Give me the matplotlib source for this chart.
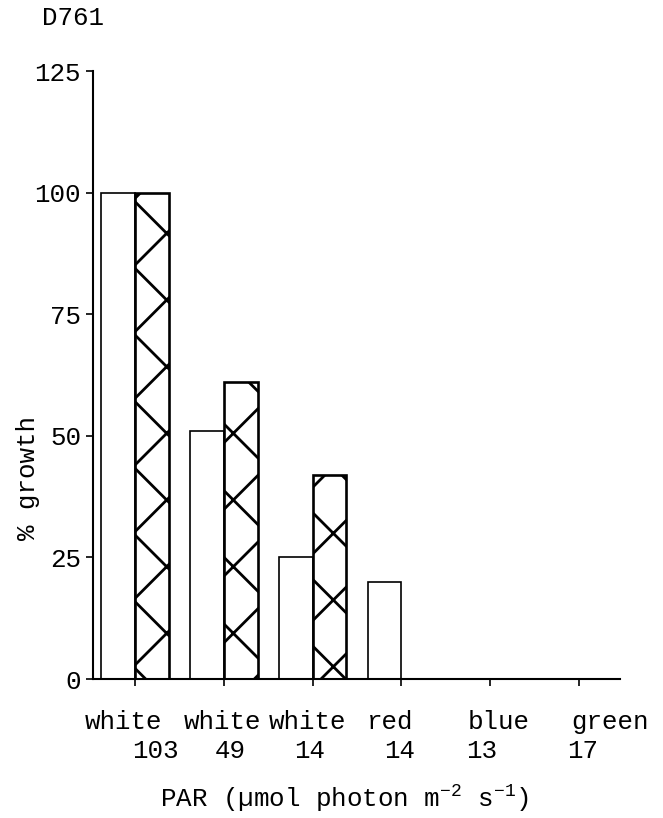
import matplotlib
matplotlib.use("Agg")
import matplotlib.pyplot as plt
import numpy as np

# growth relative to white 103, two series per light condition
light = ["white", "white", "white", "red", "blue", "green"]
par = ["103", "49", "14", "14", "13", "17"]
open_growth = [100, 51, 25, 20, 0, 0]
hatched_growth = [100, 61, 42, 0, 0, 0]
yticks = [0, 25, 50, 75, 100, 125]

# hand placement of the two label rows (offsets from tick, in bar units)
name_dx = [-0.135, -0.01, -0.06, -0.13, 0.09, 0.35]
num_dx = [0.225, 0.07, -0.03, -0.02, -0.1, 0.04]

plt.rcParams['font.family'] = ['Liberation Mono', 'DejaVu Sans Mono']
plt.rcParams['mathtext.fontset'] = 'custom'
plt.rcParams['mathtext.rm'] = 'Liberation Mono'
plt.rcParams['mathtext.it'] = 'Liberation Mono'
plt.rcParams['hatch.linewidth'] = 1.0
fs = 9.3

fig = plt.figure(figsize=(3.315, 4.09), dpi=200)
ax = fig.add_axes([0.1403, 0.1699, 0.7948, 0.7433])

x = np.arange(len(light))
w = 0.38
ax.bar(x, open_growth, width=-w, align='edge', facecolor='white',
       edgecolor='black', linewidth=0.6)
ax.bar(x, hatched_growth, width=w, align='edge', facecolor='white',
       edgecolor='black', linewidth=0.95, hatch='x')

ax.set_xlim(-0.473, 5.46)
ax.set_ylim(0, 125)
ax.set_yticks(yticks)
ax.set_yticklabels([str(v) for v in yticks], fontsize=fs)
ax.set_xticks(x)
ax.set_xticklabels([])

for side in ['top', 'right']:
    ax.spines[side].set_visible(False)
for side in ['left', 'bottom']:
    ax.spines[side].set_linewidth(0.75)
ax.tick_params(axis='both', direction='out', length=2.5, width=0.6, pad=1.8)

tr = ax.get_xaxis_transform()
for i in range(len(light)):
    ax.text(x[i] + name_dx[i], -0.0707, light[i], transform=tr,
            ha='center', va='center', fontsize=fs, clip_on=False)
    ax.text(x[i] + num_dx[i], -0.118, par[i], transform=tr,
            ha='center', va='center', fontsize=fs, clip_on=False)

fig.text(0.52, 0.0134, "PAR (\u00b5mol photon m$^{-2}$ s$^{-1}$)",
         ha='center', va='baseline', fontsize=fs)
fig.text(0.042, 0.416, "% growth", rotation=90, ha='center', va='center',
         fontsize=fs)
fig.text(0.063, 0.978, "D761", ha='left', va='center', fontsize=fs)

fig.savefig("out.png", dpi=200, facecolor='white')
